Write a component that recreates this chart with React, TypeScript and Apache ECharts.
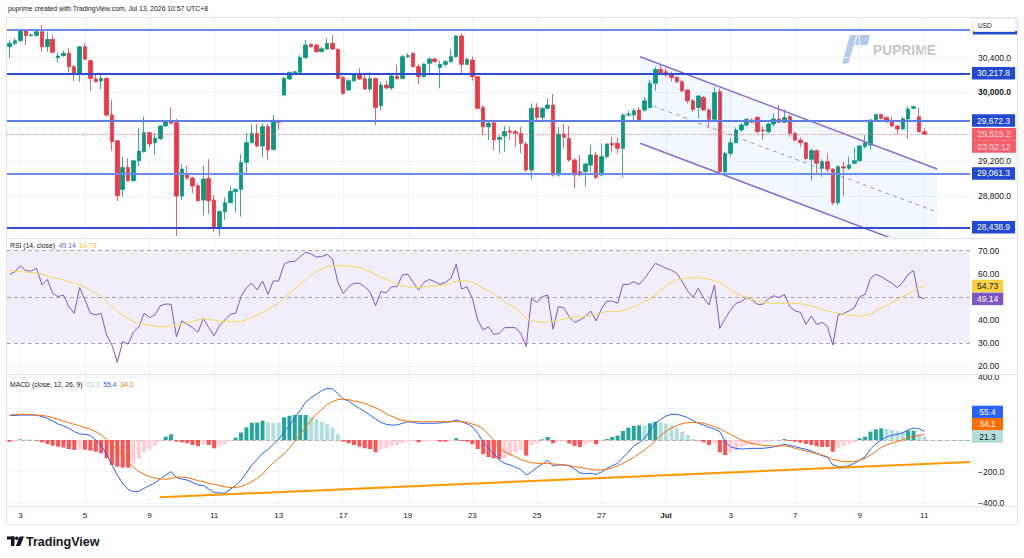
import React, { useEffect, useRef } from "react";
import * as echarts from "echarts";

// ---------- data ----------
// [open, close, low, high] per 4h bar
const candles: number[][] = [
  [30525, 30564, 30390, 30602], [30564, 30594, 30544, 30621], [30594, 30718, 30583, 30725], [30706, 30652, 30544, 30718],
  [30652, 30660, 30641, 30679], [30656, 30698, 30641, 30718], [30698, 30525, 30467, 30775], [30525, 30610, 30467, 30698],
  [30610, 30460, 30448, 30660], [30398, 30417, 30340, 30460], [30421, 30448, 30410, 30479], [30448, 30294, 30225, 30506],
  [30294, 30217, 30132, 30313], [30217, 30525, 30121, 30533], [30525, 30379, 30371, 30564], [30363, 30159, 30017, 30379],
  [30152, 30121, 30113, 30209], [30128, 30159, 30032, 30209], [30159, 29736, 29717, 30171], [29736, 29428, 29324, 29909],
  [29439, 28804, 28743, 29447], [28877, 29131, 28793, 29255], [29131, 28977, 28966, 29235], [28977, 29208, 28966, 29216],
  [29208, 29320, 29147, 29582], [29312, 29532, 29301, 29717], [29532, 29401, 29362, 29543], [29416, 29470, 29274, 29524],
  [29462, 29609, 29447, 29620], [29609, 29659, 29601, 29678], [29659, 29640, 29640, 29824], [29647, 28800, 28338, 29693],
  [28800, 29112, 28754, 29166], [29054, 29008, 28985, 29147], [29008, 28916, 28831, 29024], [28920, 28746, 28735, 28947],
  [28754, 28997, 28581, 29147], [29004, 28746, 28592, 29224], [28754, 28438, 28388, 28812], [28438, 28619, 28342, 28639],
  [28619, 28723, 28523, 28785], [28723, 28854, 28716, 28916], [28850, 28877, 28608, 28889], [28877, 29189, 28562, 29282],
  [29189, 29416, 29062, 29524], [29416, 29524, 29409, 29628], [29524, 29378, 29362, 29632], [29378, 29601, 29247, 29640],
  [29601, 29332, 29224, 29632], [29339, 29667, 29324, 29736], [29667, 29651, 29570, 29678], [29967, 30159, 29955, 30179],
  [30152, 30229, 30140, 30236], [30217, 30236, 30209, 30244], [30229, 30398, 30217, 30429], [30398, 30544, 30386, 30602],
  [30552, 30525, 30517, 30564], [30544, 30467, 30456, 30556], [30467, 30502, 30460, 30525], [30498, 30564, 30490, 30621],
  [30564, 30498, 30487, 30660], [30494, 30159, 30148, 30506], [30171, 29986, 29967, 30186], [30025, 30132, 30017, 30148],
  [30132, 30198, 30109, 30217], [30198, 30152, 30140, 30275], [30155, 30036, 30025, 30225], [30036, 30155, 30005, 30236],
  [30159, 29824, 29620, 30167], [29844, 30082, 29794, 30121], [30082, 30048, 30032, 30132], [30048, 30186, 30025, 30198],
  [30186, 30155, 30148, 30313], [30159, 30410, 30148, 30429], [30410, 30421, 30394, 30448], [30448, 30294, 30286, 30460],
  [30294, 30179, 30094, 30325], [30179, 30325, 30171, 30333], [30333, 30383, 30217, 30402], [30383, 30352, 30340, 30398],
  [30286, 30321, 30044, 30363], [30321, 30352, 30294, 30371], [30352, 30410, 30340, 30494], [30410, 30648, 30402, 30660],
  [30648, 30321, 30217, 30679], [30321, 30379, 30313, 30402], [30371, 30179, 30132, 30410], [30179, 29813, 29801, 30186],
  [29824, 29601, 29505, 29851], [29601, 29640, 29447, 29678], [29647, 29447, 29332, 29678], [29455, 29478, 29293, 29505],
  [29493, 29543, 29312, 29609], [29551, 29536, 29447, 29601], [29543, 29524, 29370, 29563], [29524, 29409, 29293, 29601],
  [29401, 29101, 29081, 29428], [29101, 29813, 28993, 29871], [29824, 29709, 29678, 29871], [29709, 29813, 29659, 29824],
  [29813, 29851, 29801, 29928], [29851, 29043, 29024, 29978], [29043, 29516, 29024, 29593], [29516, 29478, 29351, 29632],
  [29466, 29216, 29197, 29609], [29216, 29043, 28889, 29235], [29081, 29043, 29024, 29274], [29081, 29170, 28908, 29185],
  [29158, 29274, 29081, 29389], [29274, 29016, 28993, 29312], [29043, 29255, 29031, 29409], [29255, 29401, 29235, 29409],
  [29409, 29389, 29312, 29486], [29409, 29351, 29293, 29478], [29351, 29736, 29016, 29755], [29736, 29747, 29717, 29786],
  [29736, 29786, 29678, 29813], [29794, 29678, 29659, 29824], [29794, 29901, 29774, 29940], [29821, 30102, 29813, 30140],
  [30102, 30263, 30017, 30294], [30263, 30225, 30209, 30313], [30236, 30198, 30179, 30275], [30198, 30167, 30121, 30236],
  [30171, 30121, 30102, 30186], [30121, 30013, 30005, 30140], [30025, 29901, 29871, 30032], [29901, 29801, 29774, 29924],
  [29824, 29955, 29697, 29967], [29940, 29794, 29786, 29955], [29794, 29686, 29582, 29813], [29686, 29994, 29670, 30063],
  [30005, 29081, 29062, 30044], [29081, 29293, 29062, 29312], [29293, 29416, 29255, 29466], [29416, 29563, 29409, 29593],
  [29563, 29620, 29543, 29640], [29620, 29686, 29601, 29697], [29678, 29651, 29640, 29697], [29709, 29543, 29524, 29717],
  [29563, 29551, 29447, 29601], [29543, 29632, 29524, 29647], [29632, 29690, 29601, 29755], [29690, 29651, 29640, 29851],
  [29651, 29705, 29640, 29801], [29717, 29524, 29486, 29736], [29524, 29447, 29428, 29543], [29447, 29416, 29370, 29478],
  [29416, 29235, 29216, 29428], [29224, 29324, 28977, 29351], [29324, 29178, 29043, 29339], [29120, 29197, 29024, 29224],
  [29197, 29112, 29081, 29293], [29112, 28723, 28696, 29120], [28723, 29139, 28696, 29158], [29139, 29124, 28800, 29197],
  [29120, 29158, 29101, 29255], [29178, 29208, 29170, 29362], [29208, 29378, 29197, 29389], [29370, 29416, 29351, 29505],
  [29389, 29678, 29332, 29686], [29678, 29743, 29670, 29747], [29743, 29697, 29686, 29747], [29709, 29659, 29640, 29717],
  [29667, 29609, 29601, 29717], [29609, 29574, 29505, 29620], [29574, 29690, 29563, 29717], [29690, 29805, 29466, 29840],
  [29813, 29832, 29801, 29844], [29717, 29543, 29532, 29824], [29543, 29515.2, 29505, 29582],
];

const rsi: number[] = [
  59.8, 60.9, 63.5, 61.4, 61.2, 62.4, 55.2, 57.6, 51.5, 50.1, 50.8, 45.8, 42.9, 54.0, 48.7, 42.9, 42.2, 42.9, 33.5, 29.2,
  21.7, 30.6, 29.5, 34.7, 37.1, 42.9, 41.0, 42.2, 46.2, 46.9, 46.8, 32.8, 39.6, 38.1, 36.7, 34.7, 40.7, 36.7, 33.2, 37.6,
  40.0, 42.5, 42.9, 50.1, 54.0, 55.9, 53.0, 56.9, 51.1, 56.9, 56.9, 64.1, 65.3, 65.3, 67.4, 69.3, 68.6, 67.3, 67.4, 68.4,
  66.4, 56.3, 51.5, 54.4, 55.9, 55.9, 54.4, 52.0, 46.2, 52.3, 51.8, 54.4, 54.4, 59.5, 59.8, 56.3, 53.0, 56.3, 57.6, 56.6,
  55.4, 56.3, 58.0, 64.1, 53.4, 54.4, 49.4, 40.0, 35.7, 37.1, 33.8, 34.2, 36.7, 36.7, 36.7, 34.2, 28.5, 49.4, 47.6, 50.1,
  50.8, 36.0, 45.8, 45.3, 41.4, 39.0, 40.0, 41.4, 43.9, 39.6, 44.8, 48.2, 48.2, 47.2, 55.4, 55.4, 56.6, 55.4, 58.0, 61.2,
  64.5, 63.5, 62.4, 61.6, 60.2, 56.6, 52.7, 49.8, 53.7, 49.4, 46.5, 55.2, 36.4, 40.7, 44.3, 47.2, 48.0, 49.7, 48.7, 46.8,
  46.8, 49.1, 50.5, 49.7, 51.1, 45.8, 43.9, 43.3, 38.1, 41.7, 38.1, 39.0, 37.1, 29.2, 42.2, 42.9, 43.9, 45.3, 50.1, 51.1,
  58.0, 59.8, 58.8, 57.3, 55.9, 54.0, 56.3, 59.8, 61.4, 50.1, 49.14,
];

const rsiMa: number[] = [
  61.5, 61.2, 60.9, 60.8, 60.5, 60.2, 59.8, 59.2, 58.5, 57.9, 57.3, 56.6, 55.9, 55.3, 54.1, 52.9, 51.5, 50.3, 47.9, 45.8,
  43.9, 42.2, 40.6, 39.4, 38.4, 38.1, 37.8, 37.4, 37.0, 37.1, 37.3, 37.7, 38.1, 38.8, 39.4, 40.0, 40.4, 40.1, 39.9, 39.6,
  39.4, 39.4, 39.4, 39.4, 40.0, 41.2, 42.2, 43.3, 44.6, 45.9, 47.2, 49.4, 51.4, 53.4, 55.6, 57.5, 59.2, 61.1, 62.1, 63.1,
  63.4, 63.5, 63.5, 63.5, 63.1, 62.7, 61.8, 60.9, 59.8, 58.6, 57.6, 56.6, 55.4, 54.9, 54.3, 54.1, 54.1, 54.3, 54.6, 54.7,
  54.9, 55.2, 55.9, 56.9, 57.0, 56.9, 56.2, 55.2, 53.7, 52.7, 51.3, 49.7, 47.9, 46.5, 45.1, 43.0, 40.7, 39.7, 39.3, 39.0,
  39.1, 39.3, 39.9, 40.4, 40.9, 41.2, 41.3, 41.4, 41.9, 42.3, 43.2, 43.6, 43.6, 43.7, 44.0, 45.1, 45.8, 46.5, 47.9, 49.1,
  50.8, 53.0, 54.7, 56.3, 57.3, 57.9, 58.3, 58.3, 58.3, 58.0, 57.6, 57.0, 56.3, 54.7, 53.1, 51.5, 50.5, 49.7, 48.8, 48.1,
  47.6, 47.2, 47.2, 47.2, 47.2, 47.2, 47.2, 47.1, 46.6, 46.1, 45.5, 44.6, 43.9, 43.3, 42.9, 42.5, 42.2, 41.9, 41.7, 41.9,
  42.6, 43.9, 45.1, 46.2, 47.5, 48.8, 50.1, 51.4, 52.7, 54.0, 54.73,
];

const macdHist: number[] = [
  -10.5, -10, 4, 3, 2, -3, -14.6, -25, -36, -42, -48, -57, -63, -57, -61, -67, -74, -84, -116, -158,
  -169, -175, -175, -148, -116, -78, -57, -36, -10, 21, 36, -10, -14.6, -21, -31.5, -38, -27, -31.5, -52.6, -36,
  -27, -10, 15, 47, 80, 110, 110, 123, 112, 111, 110, 144, 154, 159, 159, 159, 148, 133, 116, 100,
  80, 38, -10, -21, -31.5, -42, -52.6, -57, -78, -57, -52.6, -42, -31.5, -21, -10, -6, -14.6, -10, -6, -5,
  -10, -10, -6, 11, -6, -10, -27, -57, -90, -107.6, -116, -120, -116, -99, -78, -63, -99, -31.5, -21, 4,
  19, -21, -10, -9, -23, -38, -44, -27, -17, -27, -10, 6, 19, 28, 57, 78, 89, 93, 91, 106,
  116, 112, 104, 93, 74, 53, 32, 6, -2, -14.6, -31.5, -23, -78, -95, -78, -63, -44, -34, -27, -21,
  -14.6, -10, -6, -2, 6, -6, -10, -17, -25, -31.5, -40, -44, -44, -74, -52.6, -38, -27, -14.6, 11, 21,
  53, 68, 74, 72, 64, 57, 53, 59, 59, 36, 21.3,
];

const macdLine: number[] = [
  156, 156, 158, 158, 158, 158, 148, 137, 120, 101, 89, 74, 53, 38, 36, 28, 0, -32, -91, -158,
  -222, -275, -313, -328, -325, -306, -289, -272, -247, -222, -201, -239, -247, -254, -268, -285, -289, -311, -332, -336,
  -336, -313, -289, -254, -211, -158, -123, -84, -60, -28, 4, 51, 93, 141, 188, 239, 268, 289, 314, 327,
  323, 296, 260, 247, 222, 201, 180, 158, 133, 112, 99, 95, 95, 106, 116, 112, 106, 106, 106, 106,
  108, 112, 116, 127, 116, 103, 85, 42, -11, -53, -84, -127, -148, -158, -173, -186, -222, -201, -175, -152,
  -129, -163, -158, -158, -163, -184, -209, -213, -211, -218, -203, -180, -163, -148, -110, -78, -36, -17, 11, 57,
  106, 131, 152, 163, 163, 154, 142, 123, 106, 95, 80, 70, 53, -11, -44, -53, -57, -55, -53, -53,
  -53, -49, -44, -36, -28, -34, -42, -51, -59, -70, -84, -99, -110, -158, -169, -169, -163, -148, -127, -106,
  -57, -25, 0, 19, 30, 36, 45, 64, 76, 72, 55.4,
];

const macdSignal: number[] = [
  158, 161, 163, 163, 161, 158, 156, 150, 142, 131, 120, 110, 99, 91, 78, 68, 53, 32, 4, -28,
  -63, -101, -142, -173, -199, -218, -232, -241, -247, -249, -245, -235, -235, -239, -247, -258, -264, -273, -281, -289,
  -296, -302, -300, -296, -281, -264, -243, -218, -175, -146, -114, -89, -51, -8, 36, 78, 123, 165, 192, 226,
  243, 256, 260, 256, 247, 241, 232, 218, 205, 188, 167, 150, 135, 125, 120, 116, 116, 116, 116, 116,
  116, 116, 116, 116, 116, 112, 101, 91, 70, 38, -2, -47, -74, -91, -106, -123, -135, -144, -148, -148,
  -148, -152, -154, -158, -161, -169, -173, -180, -186, -190, -190, -186, -177, -163, -148, -129, -110, -87, -63, -36,
  -6, 28, 57, 76, 91, 104, 110, 112, 110, 106, 95, 85, 70, 53, 36, 17, 0, -13, -23, -28,
  -34, -36, -38, -38, -36, -42, -53, -61, -70, -78, -87, -95, -106, -123, -131, -137, -137, -137, -127, -116,
  -95, -74, -47, -32, -19, -11, 2, 15, 21, 30, 34.1,
];

// time axis: bar index of each date tick and its label
const tickIndex: number[] = [2, 14, 26, 38, 50, 62, 74, 86, 98, 110, 122, 134, 146, 158, 170];
const tickLabels: string[] = ["3", "5", "9", "11", "13", "17", "19", "23", "25", "27", "Jul", "3", "7", "9", "11"];

// horizontal support / resistance levels (the top one's price tag sits under the USD box)
const priceLevels: number[] = [30718, 30217.8, 29672.3, 29061.3, 28438.9];
const levelTagVisible: boolean[] = [false, true, true, true, true];
const lastPrice = 29515.2;
const countdown = "03:02:12";

const priceAxisTicks: number[] = [28800, 29200, 30000, 30400];
const priceGridTicks: number[] = [28800, 29200, 29600, 30000, 30400];
const rsiAxisTicks: number[] = [20, 30, 40, 60, 70];
const rsiGridTicks: number[] = [20, 40, 60];
const rsiDashTicks: number[] = [70, 50, 30];
const macdAxisTicks: number[] = [400, -200, -400];
const macdGridTicks: number[] = [400, 200, -200, -400];

// drawings, in [bar index, value]
const channelUpper: number[][] = [[117.2, 30409], [172.4, 29112]];
const channelLower: number[][] = [[117.2, 29409], [172.4, 28112]];
const channelMid: number[][] = [[119.6, 29840], [172.2, 28619]];
const macdTrend: number[][] = [[27.9, -363], [178.5, -139.5]];

const SLOTS = 179;
const headerText = "puprime created with TradingView.com, Jul 13, 2026 10:57 UTC+8";

// ---------- styling ----------
const FONT = "'Liberation Sans', Arial, sans-serif";
const TXT = "#131722";
const GRID = "#F0F3FA";
const UP = "#089981";
const DOWN = "#F23645";
const levelColors = ["#6C8CE8", "#2F4BD0", "#5F7EE4", "#6C8CE8", "#2F4BD0"];
const LABEL_BLUE = "#2348D1";
const CLEAR = "rgba(0,0,0,0)";

const fmtPrice = (v: number) =>
  v.toLocaleString("en-US", { minimumFractionDigits: 1, maximumFractionDigits: 1 });

const histColor = (i: number) => {
  const v = macdHist[i];
  const p = i > 0 ? macdHist[i - 1] : v;
  if (v >= 0) return v >= p ? "#26A69A" : "#B2DFDB";
  return v <= p ? "#FF5252" : "#FFCDD2";
};

export default function App() {
  const ref = useRef<HTMLDivElement>(null);

  useEffect(() => {
    if (!ref.current) return;
    const chart = echarts.init(ref.current, undefined, { renderer: "svg" });
    const categories = Array.from({ length: SLOTS }, (_, i) => String(i));
    const last = candles.length - 1;

    const catAxis = (gridIndex: number, showLabels: boolean) => ({
      type: "category",
      gridIndex,
      data: categories,
      boundaryGap: true,
      axisLine: { show: showLabels, lineStyle: { color: "#E0E3EB" } },
      axisTick: { show: false },
      splitLine: { show: false },
      axisLabel: showLabels
        ? {
            show: true,
            interval: (idx: number) => tickIndex.indexOf(idx) >= 0,
            formatter: (_v: string, idx: number) => {
              const k = tickIndex.indexOf(idx);
              if (k < 0) return "";
              const t = tickLabels[k];
              return t === "Jul" ? "{m|" + t + "}" : t;
            },
            rich: { m: { fontWeight: "bold", fontSize: 8, color: TXT, fontFamily: FONT } },
            color: TXT,
            fontSize: 8,
            margin: 5,
            fontFamily: FONT,
          }
        : { show: false },
    });

    const valAxis = (gridIndex: number, min: number, max: number, ticks: number[], fmt: (v: number) => string) => ({
      type: "value",
      gridIndex,
      position: "right",
      min,
      max,
      scale: true,
      axisLine: { show: false },
      axisTick: { show: false },
      splitLine: { show: false },
      axisLabel: {
        customValues: ticks,
        formatter: fmt,
        color: TXT,
        fontSize: 8.5,
        margin: 8,
        fontFamily: FONT,
        rich: { b: { fontWeight: "bold", fontSize: 8.5, color: TXT, fontFamily: FONT } },
      },
    });

    const gridMarkLine = (hTicks: number[]) => ({
      silent: true,
      symbol: ["none", "none"],
      z: 1,
      animation: false,
      label: { show: false },
      emphasis: { disabled: true },
      lineStyle: { color: GRID, width: 1, type: "solid" },
      data: [...hTicks.map((v) => ({ yAxis: v })), ...tickIndex.map((i) => ({ xAxis: i }))],
    });

    const boxLabel = (text: string, bg: string, fg: string, show = true) => ({
      show,
      position: "end",
      distance: 2,
      formatter: () => text,
      backgroundColor: bg,
      color: fg,
      padding: [2, 5, 1, 5],
      fontSize: 8.5,
      lineHeight: 9.5,
      fontFamily: FONT,
    });

    const rowStyle = (bg: string, fg: string, w: number) => ({
      backgroundColor: bg,
      color: fg,
      width: w,
      height: 12.4,
      lineHeight: 12.4,
      align: "center",
      fontSize: 8.5,
      fontFamily: FONT,
    });

    const option: any = {
      animation: false,
      backgroundColor: "#ffffff",
      textStyle: { fontFamily: FONT },
      grid: [
        { left: 7, width: 963, top: 18, height: 219 },
        { left: 7, width: 963, top: 240, height: 134 },
        { left: 7, width: 963, top: 375, height: 131 },
      ],
      xAxis: [
        catAxis(0, false),
        catAxis(1, false),
        catAxis(2, true),
        { type: "value", gridIndex: 0, min: -0.5, max: SLOTS - 0.5, show: false },
        { type: "value", gridIndex: 2, min: -0.5, max: SLOTS - 0.5, show: false },
      ],
      yAxis: [
        valAxis(0, 28327, 30856.5, priceAxisTicks, (v: number) => (v === 30000 ? "{b|" + fmtPrice(v) + "}" : fmtPrice(v))),
        valAxis(1, 16.62, 74.63, rsiAxisTicks, (v: number) => v.toFixed(2)),
        valAxis(2, -418.4, 412.1, macdAxisTicks, (v: number) =>
          v < 0 ? "\u2212" + Math.abs(v).toFixed(1) : v.toFixed(1)
        ),
      ],
      series: [
        // grid helpers
        { type: "line", xAxisIndex: 0, yAxisIndex: 0, data: [], silent: true, markLine: gridMarkLine(priceGridTicks) },
        {
          type: "line",
          xAxisIndex: 1,
          yAxisIndex: 1,
          data: [],
          silent: true,
          markArea: {
            silent: true,
            z: 0,
            itemStyle: { color: "rgba(126,87,194,0.1)" },
            data: [[{ yAxis: 30 }, { yAxis: 70 }]],
          },
          markLine: gridMarkLine(rsiGridTicks),
        },
        {
          type: "line",
          xAxisIndex: 1,
          yAxisIndex: 1,
          data: [],
          silent: true,
          markLine: {
            silent: true,
            symbol: ["none", "none"],
            z: 1,
            label: { show: false },
            lineStyle: { color: "#A3A6AF", width: 1, type: [4, 3] },
            data: rsiDashTicks.map((v) => ({ yAxis: v })),
          },
        },
        {
          type: "line",
          xAxisIndex: 2,
          yAxisIndex: 2,
          data: [],
          silent: true,
          markLine: gridMarkLine(macdGridTicks),
        },
        {
          type: "line",
          xAxisIndex: 2,
          yAxisIndex: 2,
          data: [],
          silent: true,
          markLine: {
            silent: true,
            symbol: ["none", "none"],
            z: 1,
            label: { show: false },
            lineStyle: { color: "#B2B5BE", width: 1, type: [4, 3] },
            data: [{ yAxis: 0 }],
          },
        },
        // price
        {
          type: "candlestick",
          name: "price",
          xAxisIndex: 0,
          yAxisIndex: 0,
          data: candles,
          barWidth: 4,
          z: 3,
          itemStyle: { color: UP, color0: DOWN, borderColor: UP, borderColor0: DOWN, borderWidth: 0.8 },
          markLine: {
            silent: true,
            symbol: ["none", "none"],
            z: 6,
            data: [
              ...priceLevels.map((v, k) => ({
                yAxis: v,
                lineStyle: { color: levelColors[k], width: 2, type: "solid" },
                label: boxLabel(fmtPrice(v), LABEL_BLUE, "#ffffff", levelTagVisible[k]),
              })),
              {
                yAxis: lastPrice,
                lineStyle: { color: "#F26B75", width: 1, type: "dotted", opacity: 0.8 },
                label: {
                  show: true,
                  position: "end",
                  distance: 2,
                  formatter: () => "{sp| }\n{p|" + fmtPrice(lastPrice) + "}\n{p|" + countdown + "}",
                  rich: {
                    sp: { width: 44, height: 12.4, lineHeight: 12.4, fontSize: 8.5 },
                    p: rowStyle(DOWN, "#ffffff", 44),
                  },
                },
              },
            ],
          },
        },
        // channel drawing
        {
          type: "custom",
          xAxisIndex: 3,
          yAxisIndex: 0,
          clip: true,
          silent: true,
          z: 4,
          data: [channelUpper[0]],
          renderItem: (_params: any, api: any) => {
            const c = (p: number[]) => api.coord(p);
            const u0 = c(channelUpper[0]);
            const u1 = c(channelUpper[1]);
            const l0 = c(channelLower[0]);
            const l1 = c(channelLower[1]);
            const m0 = c(channelMid[0]);
            const m1 = c(channelMid[1]);
            return {
              type: "group",
              children: [
                { type: "polygon", shape: { points: [u0, u1, l1, l0] }, style: { fill: "rgba(33,150,243,0.06)" } },
                {
                  type: "line",
                  shape: { x1: u0[0], y1: u0[1], x2: u1[0], y2: u1[1] },
                  style: { stroke: "#8A6BCF", lineWidth: 1.5 },
                },
                {
                  type: "line",
                  shape: { x1: l0[0], y1: l0[1], x2: l1[0], y2: l1[1] },
                  style: { stroke: "#8A6BCF", lineWidth: 1.5 },
                },
                {
                  type: "line",
                  shape: { x1: m0[0], y1: m0[1], x2: m1[0], y2: m1[1] },
                  style: { stroke: "#A08BD8", lineWidth: 1, lineDash: [4, 4] },
                },
              ],
            };
          },
        },
        // RSI
        {
          type: "line",
          name: "RSI",
          xAxisIndex: 1,
          yAxisIndex: 1,
          data: rsi,
          symbol: "none",
          z: 3,
          lineStyle: { color: "#7E57C2", width: 1 },
          markLine: {
            silent: true,
            symbol: ["none", "none"],
            z: 6,
            data: [
              {
                yAxis: rsiMa[last],
                lineStyle: { color: CLEAR, width: 0 },
                label: boxLabel(rsiMa[last].toFixed(2), "#F9D13E", TXT),
              },
              {
                yAxis: rsi[last],
                lineStyle: { color: CLEAR, width: 0 },
                label: boxLabel(rsi[last].toFixed(2), "#7E57C2", "#ffffff"),
              },
            ],
          },
        },
        {
          type: "line",
          name: "RSI MA",
          xAxisIndex: 1,
          yAxisIndex: 1,
          data: rsiMa,
          symbol: "none",
          z: 3,
          lineStyle: { color: "#F7D65A", width: 1 },
        },
        // MACD
        {
          type: "bar",
          name: "Histogram",
          xAxisIndex: 2,
          yAxisIndex: 2,
          barWidth: 4,
          z: 3,
          data: macdHist.map((v, i) => ({ value: v, itemStyle: { color: histColor(i) } })),
          markLine: {
            silent: true,
            symbol: ["none", "none"],
            z: 6,
            data: [
              {
                yAxis: macdHist[last],
                lineStyle: { color: CLEAR, width: 0 },
                label: {
                  show: true,
                  position: "end",
                  distance: 2,
                  formatter: () =>
                    "{mb|" +
                    macdLine[last].toFixed(1) +
                    "}\n{mo|" +
                    macdSignal[last].toFixed(1) +
                    "}\n{mt|" +
                    macdHist[last].toFixed(1) +
                    "}\n{sp| }\n{sp| }",
                  rich: {
                    mb: rowStyle("#2962FF", "#ffffff", 31),
                    mo: rowStyle("#FF6D00", "#ffffff", 31),
                    mt: rowStyle("#B2DFDB", TXT, 31),
                    sp: { width: 31, height: 12.4, lineHeight: 12.4, fontSize: 8.5 },
                  },
                },
              },
            ],
          },
        },
        {
          type: "line",
          name: "MACD",
          xAxisIndex: 2,
          yAxisIndex: 2,
          data: macdLine,
          symbol: "none",
          z: 4,
          lineStyle: { color: "#2962FF", width: 1 },
        },
        {
          type: "line",
          name: "Signal",
          xAxisIndex: 2,
          yAxisIndex: 2,
          data: macdSignal,
          symbol: "none",
          z: 4,
          lineStyle: { color: "#FF6D00", width: 1 },
        },
        {
          type: "line",
          name: "trend",
          xAxisIndex: 4,
          yAxisIndex: 2,
          data: macdTrend,
          symbol: "none",
          z: 5,
          silent: true,
          lineStyle: { color: "#FF9800", width: 2 },
        },
      ],
      graphic: [
        {
          type: "text",
          x: 8,
          y: 8,
          z: 50,
          style: { text: headerText, fill: TXT, fontSize: 6.8, fontFamily: FONT, verticalAlign: "middle" },
        },
        {
          type: "rect",
          z: 40,
          silent: true,
          shape: { x: 6.5, y: 17.5, width: 1011, height: 507 },
          style: { fill: "none", stroke: "#E0E3EB", lineWidth: 1 },
        },
        { type: "line", z: 40, shape: { x1: 7, y1: 238.5, x2: 1017, y2: 238.5 }, style: { stroke: "#E0E3EB", lineWidth: 1 } },
        { type: "line", z: 40, shape: { x1: 7, y1: 374.5, x2: 1017, y2: 374.5 }, style: { stroke: "#E0E3EB", lineWidth: 1 } },
        { type: "line", z: 40, shape: { x1: 7, y1: 506.5, x2: 1017, y2: 506.5 }, style: { stroke: "#E0E3EB", lineWidth: 1 } },
        // USD box with the top level's tag peeking below it
        { type: "rect", z: 99, shape: { x: 973, y: 31, width: 44, height: 3.5 }, style: { fill: LABEL_BLUE } },
        {
          type: "rect",
          z: 100,
          shape: { x: 973, y: 18, width: 43, height: 13.5, r: 2 },
          style: { fill: "#ffffff", stroke: "#E0E3EB", lineWidth: 1 },
        },
        {
          type: "text",
          z: 101,
          x: 978,
          y: 25,
          style: { text: "USD", fill: TXT, fontSize: 6.5, fontFamily: FONT, verticalAlign: "middle" },
        },
        // legends
        {
          type: "text",
          z: 50,
          x: 10,
          y: 245.5,
          style: {
            text:
              "{n|RSI (14, close)}  {a|" + rsi[last].toFixed(2) + "}  {b|" + rsiMa[last].toFixed(2) + "}",
            verticalAlign: "middle",
            rich: {
              n: { fill: TXT, fontSize: 6.8, fontFamily: FONT },
              a: { fill: "#7E57C2", fontSize: 6.8, fontFamily: FONT },
              b: { fill: "#F2C230", fontSize: 6.8, fontFamily: FONT },
            },
            fontSize: 6.8,
            fontFamily: FONT,
          },
        },
        {
          type: "text",
          z: 50,
          x: 10,
          y: 384.5,
          style: {
            text:
              "{n|MACD (close, 12, 26, 9)}  {t|" +
              macdHist[last].toFixed(1) +
              "}  {b|" +
              macdLine[last].toFixed(1) +
              "}  {o|" +
              macdSignal[last].toFixed(1) +
              "}",
            verticalAlign: "middle",
            rich: {
              n: { fill: TXT, fontSize: 6.8, fontFamily: FONT },
              t: { fill: "#8ED1C9", fontSize: 6.8, fontFamily: FONT },
              b: { fill: "#2962FF", fontSize: 6.8, fontFamily: FONT },
              o: { fill: "#FF6D00", fontSize: 6.8, fontFamily: FONT },
            },
            fontSize: 6.8,
            fontFamily: FONT,
          },
        },
        // PUPRIME watermark
        {
          type: "polygon",
          z: 0,
          silent: true,
          shape: { points: [[842, 63.5], [848.5, 63.5], [856.5, 35], [850, 35]] },
          style: { fill: "#B5C9EF" },
        },
        {
          type: "polygon",
          z: 0,
          silent: true,
          shape: { points: [[857.5, 35], [870, 35], [867.5, 45], [854.5, 45]] },
          style: { fill: "#B5C9EF" },
        },
        {
          type: "text",
          z: 0,
          silent: true,
          x: 873,
          y: 50.5,
          style: {
            text: "PUPRIME",
            fill: "#C6C6C6",
            fontSize: 13.8,
            fontWeight: "bold",
            fontFamily: FONT,
            verticalAlign: "middle",
          },
        },
        // TradingView footer logo
        { type: "rect", z: 50, shape: { x: 7, y: 536.5, width: 7.5, height: 3 }, style: { fill: TXT } },
        { type: "rect", z: 50, shape: { x: 11, y: 536.5, width: 3.5, height: 9.5 }, style: { fill: TXT } },
        { type: "circle", z: 50, shape: { cx: 16.8, cy: 538.3, r: 1.8 }, style: { fill: TXT } },
        {
          type: "polygon",
          z: 50,
          shape: { points: [[19.5, 536.5], [24, 536.5], [20.2, 546], [15.8, 546]] },
          style: { fill: TXT },
        },
        {
          type: "text",
          z: 50,
          x: 26,
          y: 541.5,
          style: {
            text: "TradingView",
            fill: TXT,
            fontSize: 12.5,
            fontWeight: "bold",
            fontFamily: FONT,
            verticalAlign: "middle",
          },
        },
      ],
    };

    chart.setOption(option);
    return () => chart.dispose();
  }, []);

  return (
    <div
      ref={ref}
      style={{ position: "fixed", left: 0, top: 0, width: 1024, height: 558, background: "#ffffff" }}
    />
  );
}
